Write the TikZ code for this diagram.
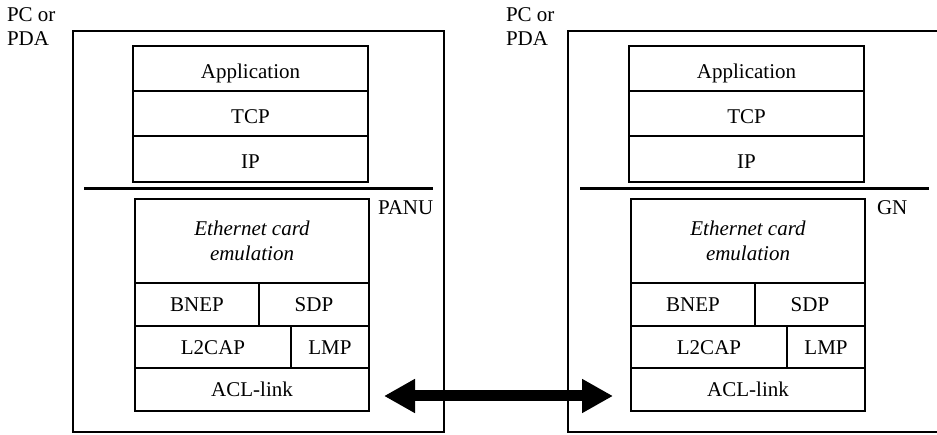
\documentclass[tikz,border=0pt]{standalone}
\usepackage{fontspec}
\setmainfont{Liberation Serif}
\usetikzlibrary{arrows.meta}
\tikzset{
  layer/.style={draw, line width=2pt, inner sep=0pt, outer sep=0pt,
    font=\fontsize{21}{25}\selectfont, align=center},
  upl/.style={layer, text height=20pt, text depth=0pt},
  lowl/.style={layer, text height=14.5pt, text depth=0pt},
  ethl/.style={layer, font=\fontsize{21}{25}\selectfont\itshape},
  frame/.style={draw, line width=1.5pt},
  sepline/.style={line width=3pt},
  lbl/.style={inner sep=0pt, outer sep=0pt, font=\fontsize{21}{24}\selectfont},
  linkarrow/.style={line width=11pt,
    {Triangle[length=31pt,width=32pt]}-{Triangle[length=31pt,width=32pt]}},
}
\newcommand\protostack[2]{%
  \begin{scope}[xshift=#2]
    \node[upl, minimum width=235pt, minimum height=45pt] (#1app) at (250.5,68.5) {Application};
    \node[upl, minimum width=235pt, minimum height=45pt] (#1tcp) at (250.5,113.5) {TCP};
    \node[upl, minimum width=235pt, minimum height=46pt] (#1ip) at (250.5,159) {IP};
    \node[ethl, minimum width=234pt, minimum height=84pt] (#1eth) at (252,241) {Ethernet card\\emulation};
    \node[lowl, minimum width=124pt, minimum height=43pt] (#1bnep) at (197,304.5) {BNEP};
    \node[lowl, minimum width=110pt, minimum height=43pt] (#1sdp) at (314,304.5) {SDP};
    \node[lowl, minimum width=156pt, minimum height=42pt] (#1l2cap) at (213,347) {L2CAP};
    \node[lowl, minimum width=78pt, minimum height=42pt] (#1lmp) at (330,347) {LMP};
    \node[lowl, minimum width=234pt, minimum height=43pt] (#1acl) at (252,389.5) {ACL-link};
  \end{scope}}
\begin{document}
\begin{tikzpicture}[x=1pt,y=-1pt]
  \useasboundingbox (0,0) rectangle (937,435);
  % device frames
  \draw[frame] (73,31) rectangle (444,432);
  \draw[frame] (937,31) -- (568,31) -- (568,432) -- (937,432);
  % separator lines
  \draw[sepline] (84,189) -- (433,189);
  \draw[sepline] (580,189) -- (929,189);
  % stacks
  \protostack{L}{0pt}
  \protostack{R}{496pt}
  % labels
  \node[lbl, align=left, anchor=north west] (Lpc) at (7,8) {PC or\\PDA};
  \node[lbl, align=left, anchor=north west] (Rpc) at (506,8) {PC or\\PDA};
  \node[lbl, anchor=base west] (panu) at (378,215) {PANU};
  \node[lbl, anchor=base west] (gn) at (877,215) {GN};
  % link arrow
  \draw[linkarrow] ([xshift=15pt,yshift=-6.5pt]Lacl.east) -- ([xshift=-18pt,yshift=-6.5pt]Racl.west);
\end{tikzpicture}
\end{document}
